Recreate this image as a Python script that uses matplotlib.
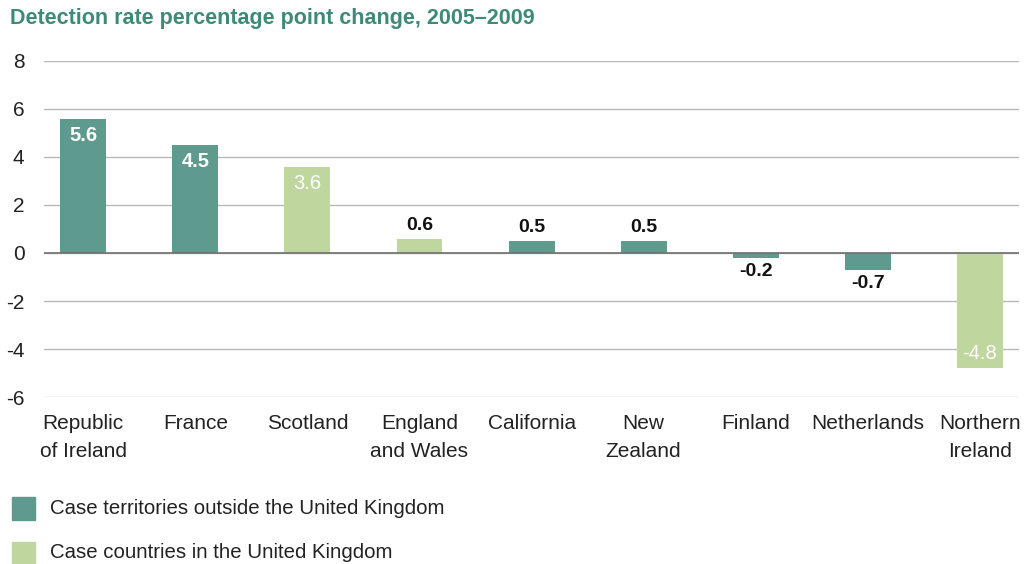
import matplotlib.pyplot as plt
from matplotlib.patches import Rectangle

plt.rcParams['font.family'] = ['Liberation Sans', 'DejaVu Sans']
plt.rcParams['axes.unicode_minus'] = False

regions = ['Republic\nof Ireland', 'France', 'Scotland', 'England\nand Wales', 'California',
           'New\nZealand', 'Finland', 'Netherlands', 'Northern\nIreland']
change = [5.6, 4.5, 3.6, 0.6, 0.5, 0.5, -0.2, -0.7, -4.8]
in_uk = [False, False, True, True, False, False, False, False, True]
legend_labels = ['Case territories outside the United Kingdom', 'Case countries in the United Kingdom']

dark = '#5f9a8f'
light = '#bfd69f'
colors = [light if u else dark for u in in_uk]

fig = plt.figure(figsize=(10.32, 5.64), dpi=100)
ax = fig.add_axes([0.0426, 0.296, 0.945, 0.596])

x = range(len(regions))
ax.bar(x, change, width=0.41, color=colors, zorder=3)

ax.set_ylim(-6, 8)
ax.set_xlim(-0.35, len(regions) - 1 + 0.35)
ax.set_yticks(range(-6, 9, 2))
ax.yaxis.grid(True, color='#b8b8b8', linewidth=1, zorder=0)
ax.axhline(0, color='#707070', linewidth=1.2, zorder=4)
for s in ax.spines.values():
    s.set_visible(False)
ax.tick_params(axis='both', length=0, labelsize=15, colors='#222222')
ax.tick_params(axis='y', pad=14)
ax.tick_params(axis='x', pad=12)
ax.set_xticks(list(x))
ax.set_xticklabels(regions, va='top')
for lbl in ax.get_xticklabels():
    lbl.set_linespacing(1.65)
for lbl in ax.get_yticklabels():
    lbl.set_horizontalalignment('right')

# value labels
for i, v in enumerate(change):
    if abs(v) >= 3:
        y = v - 0.7 if v > 0 else v + 0.6
        ax.text(i, y, f'{v}', ha='center', va='center', color='white',
                fontsize=14.5, fontweight='normal' if in_uk[i] else 'bold', zorder=5)
    else:
        y = v + 0.55 if v > 0 else v - 0.55
        ax.text(i, y, f'{v}', ha='center', va='center', color='#111111',
                fontsize=14, fontweight='bold', zorder=5)

fig.text(0.0097, 0.967, 'Detection rate percentage point change, 2005\u20132009',
         fontsize=15.5, fontweight='bold', color='#3d8a78', va='center', ha='left')

for j, (lab, c) in enumerate(zip(legend_labels, [dark, light])):
    yc = 1 - (508 + 45 * j) / 564
    fig.patches.append(Rectangle((12 / 1032, yc - 11.5 / 564), 23 / 1032, 23 / 564,
                                 transform=fig.transFigure, color=c))
    fig.text(50 / 1032, yc, lab, fontsize=14.7, color='#222222', va='center', ha='left')

fig.savefig('out.png', dpi=100)
